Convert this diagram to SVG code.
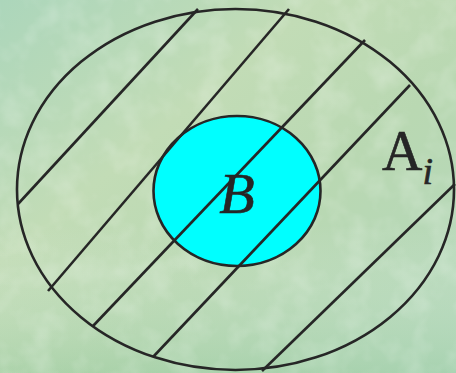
<svg xmlns="http://www.w3.org/2000/svg" width="456" height="373" viewBox="0 0 456 373">
  <defs>
    <linearGradient id="bg" x1="0" y1="0" x2="1" y2="1">
      <stop offset="0" stop-color="#acd6bb"/>
      <stop offset="0.35" stop-color="#c2dcb6"/>
      <stop offset="0.6" stop-color="#b9d8b2"/>
      <stop offset="1" stop-color="#b4d8bc"/>
    </linearGradient>
    <linearGradient id="bg2" x1="0" y1="0" x2="0" y2="1">
      <stop offset="0" stop-color="#ffffff" stop-opacity="0"/>
      <stop offset="0.6" stop-color="#ffffff" stop-opacity="0"/>
      <stop offset="1" stop-color="#8fc79a" stop-opacity="0.35"/>
    </linearGradient>
    <filter id="tex" x="0" y="0" width="100%" height="100%">
      <feTurbulence type="fractalNoise" baseFrequency="0.035" numOctaves="3" seed="4" result="n"/>
      <feColorMatrix in="n" type="matrix" values="0 0 0 0 1  0 0 0 0 1  0 0 0 0 1  0 0 0 0.9 -0.38" result="w"/>
      <feComposite in="w" in2="SourceGraphic" operator="in"/>
    </filter>
  </defs>
  <style>
    .ln { fill: none; stroke: #262626; stroke-width: 2.6; stroke-linecap: butt; }
    .lbl { font-family: "Liberation Serif", "Times New Roman", serif; fill: #262626; stroke: #262626; stroke-width: 0.6; }
  </style>
  <rect id="background" x="0" y="0" width="456" height="373" fill="url(#bg)"/>
  <rect x="0" y="0" width="456" height="373" fill="url(#bg2)"/>
  <rect x="0" y="0" width="456" height="373" fill="#ffffff" filter="url(#tex)" opacity="0.5"/>

  <g id="setA">
    <ellipse class="ln" cx="235.5" cy="189.5" rx="218.5" ry="180.5"/>
  </g>
  <g id="setB">
    <ellipse cx="237" cy="191" rx="83.5" ry="75" fill="#00ffff" stroke="#262626" stroke-width="2.6"/>
  </g>
  <g id="hatching">
    <line class="ln" x1="198" y1="9" x2="18" y2="204"/>
    <line class="ln" x1="289" y1="9" x2="48" y2="291"/>
    <line class="ln" x1="365" y1="40" x2="93" y2="326"/>
    <line class="ln" x1="410" y1="85" x2="153" y2="357"/>
    <line class="ln" x1="455" y1="184" x2="262" y2="371"/>
  </g>
  <g id="labels">
    <text class="lbl" x="237" y="213" font-size="58" font-style="italic" text-anchor="middle">B</text>
    <text class="lbl" x="382" y="170" font-size="56">A<tspan font-style="italic" font-size="38" dy="14">i</tspan></text>
  </g>
</svg>
